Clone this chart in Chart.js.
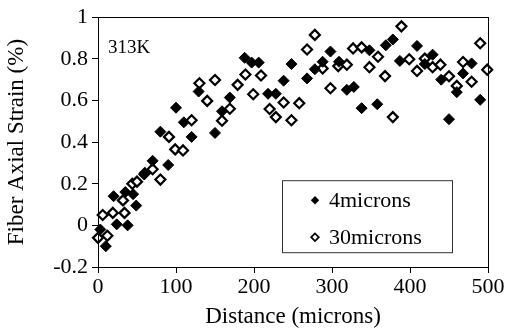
<!DOCTYPE html>
<html>
<head>
<meta charset="utf-8">
<script src="https://cdn.jsdelivr.net/npm/chart.js@4/dist/chart.umd.min.js"></script>
<style>
  html, body { margin: 0; padding: 0; background: #fff; }
  #wrap { width: 506px; height: 331px; }
</style>
</head>
<body>
<div id="wrap"><canvas id="c" width="506" height="331"></canvas></div>
<script>
// Fiber axial strain along the fiber at 313K, two fiber diameters
const seriesNames = ['4microns', '30microns'];

const dist4 = [3,10,20,24,35,38,45,49,59,70,80,90,100,110,120,129,150,159,169,188,197,206,218,228,238,248,268,278,288,298,309,319,328,338,348,358,369,378,387,409,419,429,440,450,460,468,479,490];
const strain4 = [-0.02,-0.10,0.14,0.005,0.16,0.0,0.15,0.095,0.245,0.31,0.45,0.29,0.565,0.495,0.425,0.643,0.444,0.548,0.614,0.805,0.782,0.782,0.632,0.632,0.695,0.775,0.706,0.75,0.786,0.835,0.786,0.651,0.665,0.563,0.841,0.582,0.865,0.893,0.79,0.862,0.775,0.82,0.70,0.51,0.64,0.73,0.778,0.603];

const dist30 = [0,6,12,19,32,34,44,50,60,70,80,91,99,109,120,130,140,150,159,169,179,189,199,209,220,228,238,248,258,268,278,288,298,308,319,327,338,348,359,368,378,389,399,409,419,429,439,450,460,468,479,490,499];
const strain30 = [-0.06,0.05,-0.05,0.06,0.12,0.06,0.2,0.21,0.25,0.27,0.22,0.425,0.365,0.36,0.505,0.683,0.598,0.698,0.503,0.56,0.675,0.725,0.63,0.72,0.559,0.52,0.59,0.505,0.587,0.845,0.915,0.754,0.659,0.765,0.772,0.85,0.855,0.76,0.81,0.717,0.52,0.956,0.798,0.742,0.801,0.76,0.772,0.716,0.67,0.785,0.69,0.875,0.748];

const xTicks = [0, 100, 200, 300, 400, 500];
const yTicks = [-0.2, 0, 0.2, 0.4, 0.6, 0.8, 1];
const tempLabel = '313K';

const SERIF = '"Liberation Serif", "Times New Roman", serif';

function pairs(xs, ys) {
  return xs.map((x, i) => ({ x: x, y: ys[i] }));
}

function diamond(ctx, x, y, r) {
  ctx.beginPath();
  ctx.moveTo(x - r, y);
  ctx.lineTo(x, y - r);
  ctx.lineTo(x + r, y);
  ctx.lineTo(x, y + r);
  ctx.closePath();
}

// frame around the plot, temperature label and boxed legend
const decor = {
  id: 'decor',
  afterDatasetsDraw(chart) {
    const { ctx, chartArea: a } = chart;
    ctx.save();
    ctx.strokeStyle = '#000';
    ctx.lineWidth = 1;
    ctx.strokeRect(Math.round(a.left) + 0.5, Math.round(a.top) + 0.5,
                   Math.round(a.right - a.left), Math.round(a.bottom - a.top));

    ctx.fillStyle = '#000';
    ctx.font = '19px ' + SERIF;
    ctx.textBaseline = 'middle';
    ctx.textAlign = 'left';
    ctx.fillText(tempLabel, a.left + 10, a.top + 31);

    // legend box
    const bx = a.left + 184, by = a.top + 163, bw = 170, bh = 72;
    ctx.fillStyle = '#fff';
    ctx.fillRect(bx, by, bw, bh);
    ctx.strokeStyle = '#333';
    ctx.strokeRect(bx + 0.5, by + 0.5, bw, bh);

    ctx.font = '22px ' + SERIF;
    const rows = [by + 20, by + 57];
    // filled marker
    ctx.fillStyle = '#000';
    diamond(ctx, bx + 33, rows[0], 4.2);
    ctx.fill();
    // hollow marker
    ctx.lineWidth = 1.7;
    ctx.strokeStyle = '#000';
    ctx.fillStyle = '#fff';
    diamond(ctx, bx + 33, rows[1], 3.8);
    ctx.fill();
    ctx.stroke();

    ctx.fillStyle = '#000';
    ctx.fillText(seriesNames[0], bx + 47, rows[0] + 1);
    ctx.fillText(seriesNames[1], bx + 47, rows[1] + 1);
    ctx.restore();
  }
};

new Chart(document.getElementById('c'), {
  type: 'scatter',
  data: {
    datasets: [
      {
        label: seriesNames[0],
        data: pairs(dist4, strain4),
        pointStyle: 'rectRot',
        pointRadius: 5.5,
        pointHoverRadius: 5.5,
        backgroundColor: '#000',
        borderColor: '#000',
        borderWidth: 1,
        clip: false
      },
      {
        label: seriesNames[1],
        data: pairs(dist30, strain30),
        pointStyle: 'rectRot',
        pointRadius: 5,
        pointHoverRadius: 5,
        backgroundColor: '#fff',
        borderColor: '#000',
        borderWidth: 2.2,
        clip: false
      }
    ]
  },
  options: {
    responsive: false,
    animation: false,
    events: [],
    layout: { padding: { top: 15, right: 18, left: 0, bottom: 0 } },
    plugins: {
      legend: { display: false },
      tooltip: { enabled: false }
    },
    scales: {
      x: {
        type: 'linear',
        min: 0,
        max: 500,
        afterBuildTicks(scale) { scale.ticks = xTicks.map(v => ({ value: v })); },
        afterFit(scale) { scale.height = 64; },
        grid: { drawOnChartArea: false, drawTicks: true, tickLength: 6, color: '#000', lineWidth: 1 },
        border: { display: true, color: '#000', width: 1 },
        ticks: {
          color: '#000',
          padding: 1,
          maxRotation: 0,
          font: { family: SERIF, size: 22 }
        },
        title: {
          display: true,
          text: 'Distance (microns)',
          color: '#000',
          padding: { top: -6, bottom: 0 },
          font: { family: SERIF, size: 23 }
        }
      },
      y: {
        type: 'linear',
        min: -0.2,
        max: 1,
        afterBuildTicks(scale) { scale.ticks = yTicks.map(v => ({ value: v })); },
        afterFit(scale) { scale.width = 98; },
        grid: { drawOnChartArea: false, drawTicks: true, tickLength: 6, color: '#000', lineWidth: 1 },
        border: { display: true, color: '#000', width: 1 },
        ticks: {
          color: '#000',
          padding: 4,
          font: { family: SERIF, size: 22 },
          callback: v => String(Math.round(v * 10) / 10)
        },
        title: {
          display: true,
          text: 'Fiber Axial Strain (%)',
          color: '#000',
          padding: { top: 3, bottom: 0 },
          font: { family: SERIF, size: 23 }
        }
      }
    }
  },
  plugins: [decor]
});
</script>
</body>
</html>
